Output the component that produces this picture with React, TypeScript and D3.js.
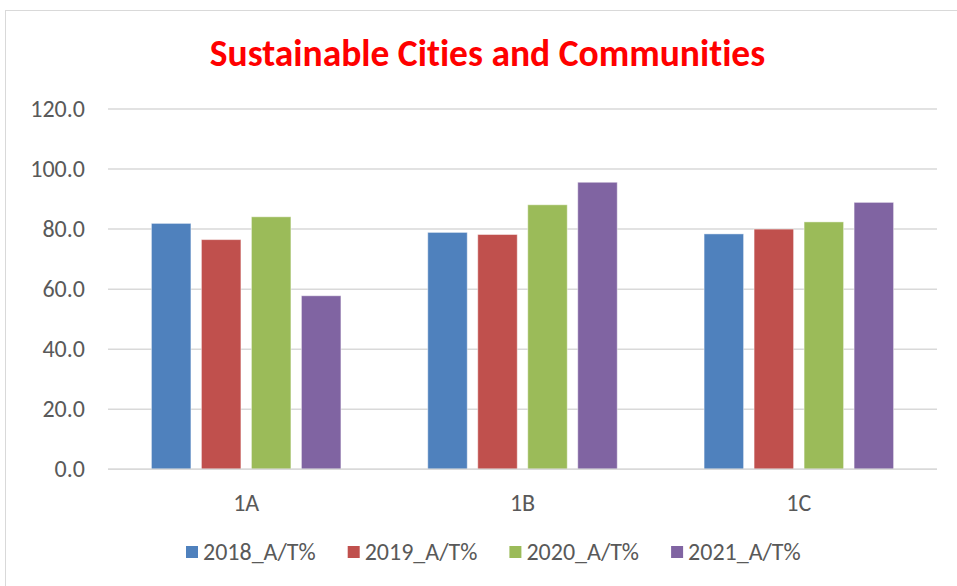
import { useEffect, useRef } from 'react';
import * as d3 from 'd3';

const categories = ['1A', '1B', '1C'];
const seriesNames = ['2018_A/T%', '2019_A/T%', '2020_A/T%', '2021_A/T%'];
const values2018 = [81.9, 78.9, 78.4];
const values2019 = [76.5, 78.2, 80.0];
const values2020 = [84.1, 88.1, 82.4];
const values2021 = [57.8, 95.6, 88.9];
const yTicks = [0, 20, 40, 60, 80, 100, 120];
const colors = ['#4F81BD', '#C0504D', '#9BBB59', '#8064A2'];

const FONT = 'Carlito, Calibri, "Liberation Sans", Arial, sans-serif';

export default function App() {
  const svgRef = useRef<SVGSVGElement>(null);

  useEffect(() => {
    if (!svgRef.current) return;
    const width = 957;
    const height = 586;
    const plot = { left: 108, right: 937, top: 109, bottom: 469.3 };

    const svg = d3.select(svgRef.current);
    svg.selectAll('*').remove();
    svg.attr('width', width).attr('height', height).style('font-variant-ligatures', 'none');

    const series = [values2018, values2019, values2020, values2021];

    // chart border
    svg
      .append('rect')
      .attr('x', 5.5)
      .attr('y', 10.5)
      .attr('width', width + 10)
      .attr('height', height + 10)
      .attr('fill', '#fff')
      .attr('stroke', '#d9d9d9')
      .attr('stroke-width', 1);

    svg
      .append('text')
      .attr('x', 487.5)
      .attr('y', 66)
      .attr('text-anchor', 'middle')
      .style('font-family', FONT)
      .style('font-size', '37.5px')
      .style('font-weight', '700')
      .style('font-variant-ligatures', 'none')
      .style('fill', '#FF0000')
      .text('Sustainable Cities and Communities');

    const x0 = d3.scaleBand().domain(categories).range([plot.left, plot.right]).padding(0);
    const groupWidth = 189.5;
    const x1 = d3.scaleBand().domain(seriesNames).range([0, groupWidth]).paddingInner(0.21).paddingOuter(0);
    const y = d3.scaleLinear().domain([0, 120]).range([plot.bottom, plot.top]);

    // gridlines
    svg
      .append('g')
      .selectAll('line')
      .data(yTicks)
      .enter()
      .append('line')
      .attr('x1', plot.left)
      .attr('x2', plot.right)
      .attr('y1', (d) => y(d))
      .attr('y2', (d) => y(d))
      .attr('stroke', '#d9d9d9')
      .attr('stroke-width', 1.5);

    svg
      .append('g')
      .selectAll('text')
      .data(yTicks)
      .enter()
      .append('text')
      .attr('x', 85)
      .attr('y', (d) => y(d))
      .attr('dy', '0.33em')
      .attr('text-anchor', 'end')
      .style('font-family', FONT)
      .style('font-size', '24px')
      .style('fill', '#595959')
      .text((d) => d.toFixed(1));

    // bars
    series.forEach((vals, si) => {
      svg
        .append('g')
        .selectAll('rect')
        .data(vals)
        .enter()
        .append('rect')
        .attr('x', (_, i) => (x0(categories[i]) || 0) + (x0.bandwidth() - groupWidth) / 2 + (x1(seriesNames[si]) || 0))
        .attr('y', (d) => y(d))
        .attr('width', x1.bandwidth())
        .attr('height', (d) => plot.bottom - y(d))
        .attr('fill', colors[si])
        .attr('stroke', 'rgba(255,255,255,0.45)')
        .attr('stroke-width', 1);
    });

    // axis line
    svg
      .append('line')
      .attr('x1', plot.left)
      .attr('x2', plot.right)
      .attr('y1', y(0))
      .attr('y2', y(0))
      .attr('stroke', '#d9d9d9')
      .attr('stroke-width', 1.5);

    svg
      .append('g')
      .selectAll('text')
      .data(categories)
      .enter()
      .append('text')
      .attr('x', (d) => (x0(d) || 0) + x0.bandwidth() / 2)
      .attr('y', 511)
      .attr('text-anchor', 'middle')
      .style('font-family', FONT)
      .style('font-size', '24px')
      .style('fill', '#595959')
      .text((d) => d);

    // legend
    const legend = svg
      .append('g')
      .selectAll('g')
      .data(seriesNames)
      .enter()
      .append('g')
      .attr('transform', (_, i) => `translate(${186 + i * 161.7}, 552)`);

    legend
      .append('rect')
      .attr('x', 0)
      .attr('y', -6)
      .attr('width', 12)
      .attr('height', 12)
      .attr('fill', (_, i) => colors[i]);

    legend
      .append('text')
      .attr('x', 17)
      .attr('y', 0)
      .attr('dy', '0.33em')
      .style('font-family', FONT)
      .style('font-size', '24px')
      .style('fill', '#595959')
      .text((d) => d);
  }, []);

  return <svg ref={svgRef} style={{ position: 'absolute', left: 0, top: 0 }} />;
}
